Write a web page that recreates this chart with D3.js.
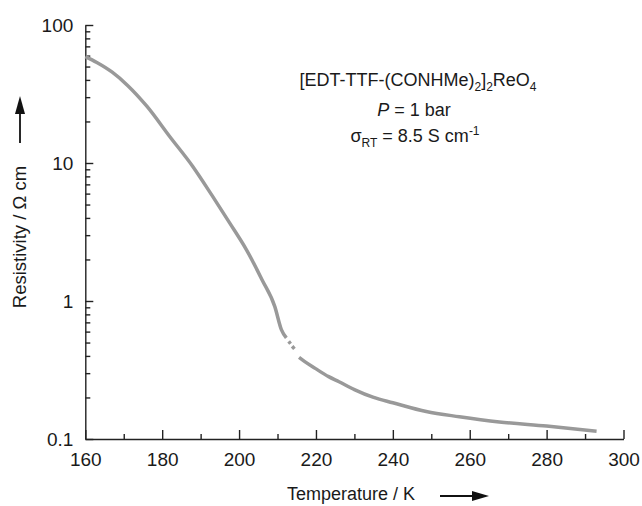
<!DOCTYPE html>
<html>
<head>
<meta charset="utf-8">
<script src="https://cdn.jsdelivr.net/npm/d3@7"></script>
<style>
  body { margin: 0; background: #fff; }
  svg { font-family: "Liberation Sans", Arial, sans-serif; }
</style>
</head>
<body>
<div id="chart"></div>
<script>
// resistivity vs temperature (null = gap in the trace)
const temps = [160, 163, 167, 171, 176, 182, 188, 193, 197.5, 202, 206, 209.3, 211, 212.3,
  null, 212.9, 213.4, null, 213.8, 214.4, null,
  215.6, 217, 219.8, 223.3, 226, 230, 235, 240, 248.7, 257.3, 267.7, 280, 293];
const rho = [59, 53.5, 45.5, 36.5, 25.8, 15.5, 9.4, 5.8, 3.7, 2.33, 1.42, 0.91, 0.62, 0.54,
  null, 0.51, 0.49, null, 0.47, 0.45, null,
  0.39, 0.365, 0.325, 0.283, 0.26, 0.228, 0.2, 0.183, 0.158, 0.145, 0.133, 0.124, 0.114];

const xMajor = [160, 180, 200, 220, 240, 260, 280, 300];
const xMinor = [170, 190, 210, 230, 250, 270, 290];
const yMajor = [0.1, 1, 10, 100];
const yLabels = ["0.1", "1", "10", "100"];

const width = 642;
const height = 506;

const svg = d3.select("#chart").append("svg")
  .attr("width", width)
  .attr("height", height);

const x = d3.scaleLinear().domain([160, 300]).range([85.3, 623.5]);
const y = d3.scaleLog().domain([0.1, 100]).range([439, 25]);

// minor log ticks between decades
const yMinor = [];
[0.1, 1, 10].forEach(d => { for (let k = 2; k <= 9; k++) yMinor.push(d * k); });

// x axis
svg.append("g")
  .attr("transform", `translate(0,${y(0.1)})`)
  .call(d3.axisBottom(x).tickValues(xMinor).tickSize(-5).tickFormat(""))
  .call(g => g.select(".domain").remove());

svg.append("g")
  .attr("transform", `translate(0,${y(0.1)})`)
  .call(d3.axisBottom(x).tickValues(xMajor).tickSize(-9).tickSizeOuter(0).tickPadding(14))
  .call(g => g.selectAll("text").attr("font-size", 19).attr("font-family", null).attr("fill", "#1a1a1a"));

// y axis
svg.append("g")
  .attr("transform", `translate(${x(160)},0)`)
  .call(d3.axisLeft(y).tickValues(yMinor).tickSize(-5).tickFormat(""))
  .call(g => g.select(".domain").remove());

svg.append("g")
  .attr("transform", `translate(${x(160)},0)`)
  .call(d3.axisLeft(y).tickValues(yMajor).tickSize(-8).tickSizeOuter(0).tickPadding(12)
    .tickFormat((d, i) => yLabels[i]))
  .call(g => g.selectAll("text").attr("font-size", 19).attr("font-family", null).attr("fill", "#1a1a1a"));

svg.selectAll(".domain, .tick line").attr("stroke", "#222").attr("stroke-width", 1.4);

// the trace
const pts = temps.map((t, i) => ({ t: t, r: rho[i] }));
const line = d3.line()
  .defined(d => d.t != null)
  .x(d => x(d.t))
  .y(d => y(d.r))
  .curve(d3.curveMonotoneX);

svg.append("path")
  .datum(pts)
  .attr("fill", "none")
  .attr("stroke", "#999")
  .attr("stroke-width", 3.5)
  .attr("d", line);

// axis titles with arrows
svg.append("text")
  .attr("transform", "translate(26,237) rotate(-90)")
  .attr("text-anchor", "middle")
  .attr("font-size", 18.5)
  .attr("fill", "#1a1a1a")
  .text("Resistivity / Ω cm");

svg.append("line")
  .attr("x1", 20).attr("x2", 20).attr("y1", 143).attr("y2", 110)
  .attr("stroke", "#111").attr("stroke-width", 1.8);
svg.append("path")
  .attr("d", "M15,114 L25,114 L20,96 Z")
  .attr("fill", "#111");

svg.append("text")
  .attr("x", 351)
  .attr("y", 500)
  .attr("text-anchor", "middle")
  .attr("font-size", 18)
  .attr("fill", "#1a1a1a")
  .text("Temperature / K");

svg.append("line")
  .attr("x1", 440).attr("x2", 476).attr("y1", 496).attr("y2", 496)
  .attr("stroke", "#111").attr("stroke-width", 1.8);
svg.append("path")
  .attr("d", "M472,491 L472,501 L489,496 Z")
  .attr("fill", "#111");

// annotation
const ann = svg.append("g")
  .attr("font-size", 18)
  .attr("fill", "#1a1a1a")
  .attr("text-anchor", "middle");

const l1 = ann.append("text").attr("x", 418).attr("y", 86);
l1.append("tspan").text("[EDT-TTF-(CONHMe)");
l1.append("tspan").attr("dy", 5).attr("font-size", 12).text("2");
l1.append("tspan").attr("dy", -5).text("]");
l1.append("tspan").attr("dy", 5).attr("font-size", 12).text("2");
l1.append("tspan").attr("dy", -5).text("ReO");
l1.append("tspan").attr("dy", 5).attr("font-size", 12).text("4");

const l2 = ann.append("text").attr("x", 414).attr("y", 116);
l2.append("tspan").attr("font-style", "italic").text("P");
l2.append("tspan").text(" = 1 bar");

const l3 = ann.append("text").attr("x", 415).attr("y", 142);
l3.append("tspan").text("σ");
l3.append("tspan").attr("dy", 5).attr("font-size", 12).text("RT");
l3.append("tspan").attr("dy", -5).text(" = 8.5 S cm");
l3.append("tspan").attr("dy", -7).attr("font-size", 12).text("-1");
</script>
</body>
</html>
